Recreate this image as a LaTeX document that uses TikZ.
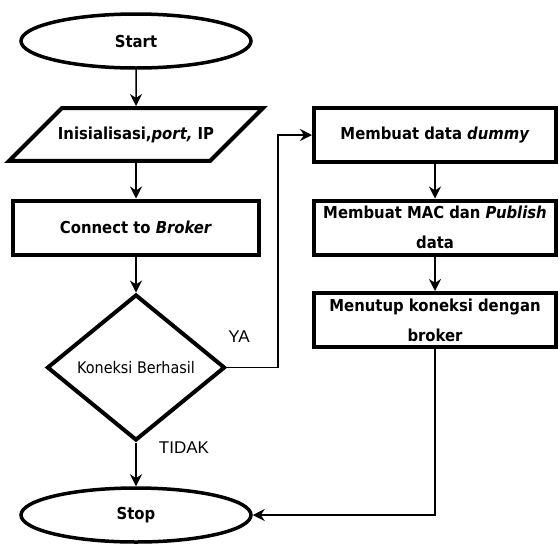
\documentclass[tikz,border=0pt]{standalone}
\usepackage{fontspec}
\setmainfont{DejaVu Sans Condensed}
\newfontfamily\labelfont{Liberation Sans}
\usetikzlibrary{shapes.geometric,arrows.meta}

\begin{document}
\begin{tikzpicture}
        [x=1pt,y=-1pt,
        every node/.style={align=center, font=\fontsize{16.5}{30}\selectfont\bfseries},
        box/.style={draw=black, line width=4pt, rectangle, minimum width=242pt, minimum height=54pt, inner sep=2pt},
        terminal/.style={draw=black, line width=3.5pt, ellipse, minimum width=230pt, minimum height=54pt},
        io/.style={draw=black, line width=4pt, trapezium, trapezium left angle=45, trapezium right angle=135,
          trapezium stretches body, inner xsep=-4pt, inner ysep=18.5pt},
        decision/.style={draw=black, line width=4pt, diamond, inner sep=0pt, minimum width=178pt, minimum height=146pt,
          font=\fontsize{16}{20}\selectfont},
        tag/.style={font=\labelfont\fontsize{17}{20}\selectfont},
        flow/.style={line width=1.5pt, -{Stealth[length=12pt,width=12pt]}},
        ]
        \useasboundingbox (0,0) rectangle (559,544);
        % left column
        \node[terminal] (start) at (136,41) {Start};
        \node[io] (init) at (136,134.5) {Inisialisasi,\textit{port,} IP};
        \node[box, minimum width=246pt] (connect) at (136,227.5) {Connect to \textit{Broker}};
        \node[decision] (cek) at (136,367.5) {Koneksi Berhasil};
        \node[terminal] (stop) at (136,515) {Stop};
        % right column
        \node[box] (dummy) at (435,135) {Membuat data \textit{dummy}};
        \node[box] (mac) at (435,227.5) {Membuat MAC dan \textit{Publish}\\data};
        \node[box] (tutup) at (435,320) {Menutup koneksi dengan\\broker};
        % labels
        \node[tag] (ya) at (239,337) {YA};
        \node[tag] (tidak) at (184,448) {TIDAK};
        \coordinate (bend) at (278,367.5);
        % connectors
        \draw[flow] (start) -- (init);
        \draw[flow] (init) -- (connect);
        \draw[flow] (connect) -- (cek);
        \draw[flow] (cek) -- (stop);
        \draw[flow] (cek.east) -- (bend) |- (dummy.west);
        \draw[flow] (dummy) -- (mac);
        \draw[flow] (mac) -- (tutup);
        \draw[flow] (tutup.south) |- (stop.east);
\end{tikzpicture}
\end{document}
